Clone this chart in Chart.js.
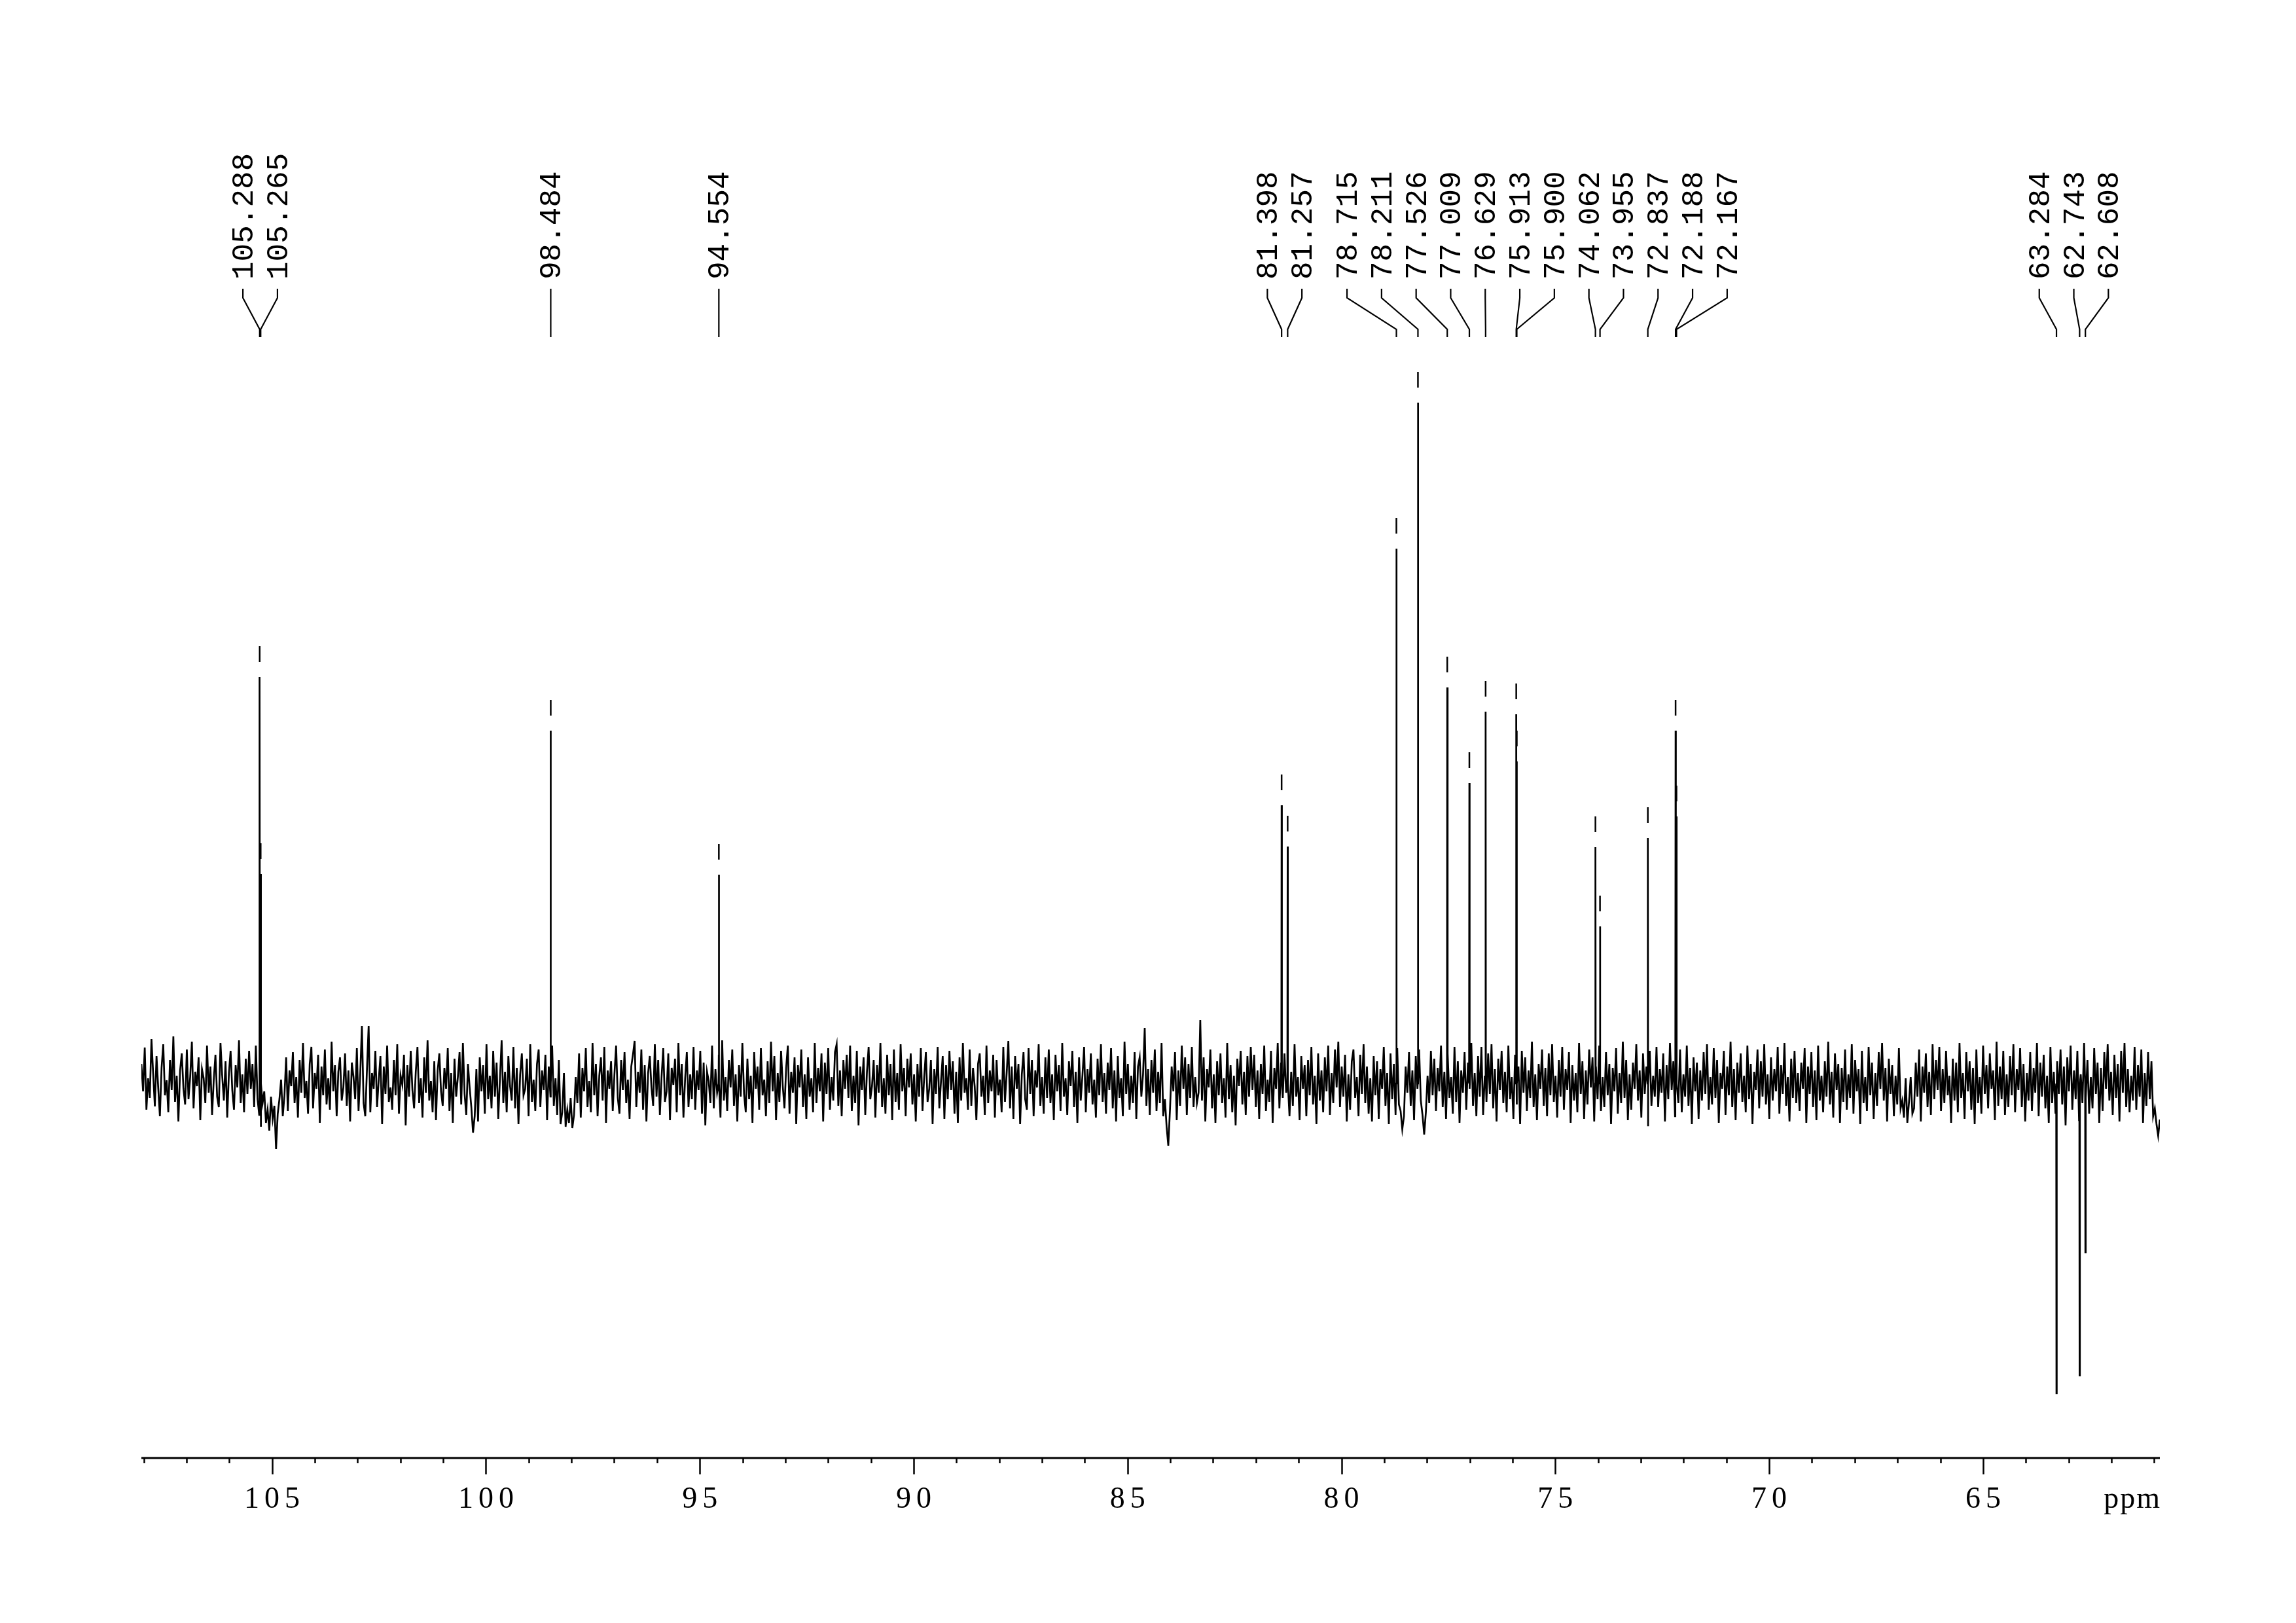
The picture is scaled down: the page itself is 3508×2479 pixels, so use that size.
<!DOCTYPE html>
<html>
<head>
<meta charset="utf-8">
<script src="https://cdn.jsdelivr.net/npm/chart.js@4.4.1/dist/chart.umd.min.js"></script>
<style>
  html, body { margin: 0; padding: 0; background: #fff; }
  #spec { display: block; }
</style>
</head>
<body>
<canvas id="spec" width="3508" height="2479"></canvas>
<script>
// spectral window (ppm), left edge to right edge
const ppmStart = 108.054;
const ppmEnd = 60.867;

// picked peaks and their heights (arbitrary intensity, baseline = 0)
const peakShifts = [105.288, 105.265, 98.484, 94.554, 81.398, 81.257, 78.715, 78.211, 77.526, 77.009,
  76.629, 75.913, 75.900, 74.062, 73.955, 72.837, 72.188, 72.167, 63.284, 62.743, 62.608];
const peakHeights = [621, 320, 539, 319, 425, 362, 817, 1040, 605, 459,
  568, 564, 492, 361, 240, 375, 539, 408, -473, -446, -258];

// axis tick labels
const majorTicks = [105, 100, 95, 90, 85, 80, 75, 70, 65];

// baseline noise, read left to right across the window
const noise = [
  30,-12,55,-40,8,-22,68,15,-35,42,-6,-50,24,60,-18,5,-44,36,-10,72,-28,12,-58,20,46,-8,-32,52,-24,10,
  64,-38,18,-4,40,-56,22,8,-30,58,-14,26,-48,6,44,-20,-36,62,12,-26,34,-52,16,50,-10,-40,28,-6,66,-30,
  14,-44,38,-16,50,-8,30,-36,58,-24,-48,-66,-30,-12,-60,-40,-72,-20,-54,-34,-100,-46,-24,6,-50,-18,40,-42,20,-4,
  48,-30,10,-52,36,-14,62,-22,4,-46,30,56,-38,16,-8,44,-60,26,-18,52,-32,8,-40,64,-12,28,-50,18,40,-26,
  -6,46,-34,20,-58,32,10,-24,54,-42,14,88,-30,-50,22,88,-44,16,-8,50,-36,6,42,-62,26,-16,58,-28,-6,-40,
  36,-18,60,-46,12,-2,44,-64,28,-20,50,-10,-38,18,56,-30,8,-52,40,-14,66,-26,4,-44,34,-56,20,46,-12,-34,
  24,-8,54,-42,16,-60,38,-20,10,48,-32,62,-16,-48,30,-6,-36,-75,-50,22,-58,40,-12,28,-46,60,-24,12,-38,50,
  -20,32,-54,8,66,-30,18,-44,42,-4,-26,56,-38,24,-62,14,46,-18,-8,38,-50,60,-28,6,-42,30,52,-36,20,-10,
  44,-56,26,-20,58,-34,8,-48,36,-62,-44,16,-66,-40,-60,-22,-68,-48,10,-30,46,-52,24,-12,54,-36,4,-44,62,-18,
  30,-50,12,40,-26,56,-60,20,-8,34,-42,14,58,-22,-46,36,-10,48,-30,6,-54,26,44,65,-36,18,-14,52,-40,28,
  -58,16,42,-6,-34,60,-20,36,-48,10,54,-28,-12,46,-56,24,-2,38,-44,62,-18,30,-52,8,48,-36,14,-24,56,-40,
  20,-10,50,-46,32,-64,18,4,-30,58,-38,22,-14,44,-52,66,-26,10,-42,36,-6,52,-34,14,-58,28,-20,62,-16,-44,
  38,-24,12,-60,48,-8,26,-40,54,-18,6,-50,34,-30,64,-12,42,-56,16,-28,50,-4,-38,24,58,-46,18,-14,40,-62,
  28,-6,52,-36,14,-54,40,-20,8,-44,62,-30,24,-12,46,-58,32,-16,54,-40,10,-26,48,60,-34,20,-50,36,-8,44,
  -22,58,-42,12,-30,50,-64,26,-10,40,-48,18,56,-24,-4,36,-52,28,-14,62,-36,8,-46,44,-18,30,-56,52,-28,16,
  -40,60,-12,24,-50,38,-6,46,-32,14,-58,30,-20,54,-42,10,48,-28,-8,36,-62,22,-16,56,-38,4,42,-54,28,-24,
  50,-10,34,-46,18,-60,40,-26,62,-14,8,-40,52,-34,24,-4,-56,30,46,-20,12,-48,58,-30,20,-12,44,-52,36,-18,
  6,-44,56,-28,16,65,-38,26,-54,42,-8,30,-62,14,48,-24,-40,54,-16,36,-50,20,-6,60,-34,10,-46,40,-22,52,
  -30,14,-56,44,-12,28,-42,62,-20,8,-48,34,-4,50,-36,18,-60,40,-26,12,56,-44,22,-14,46,-32,6,-52,38,-18,
  60,-28,16,-46,32,-10,54,-38,20,-58,42,-22,8,-50,64,-16,30,-40,12,-30,48,-54,26,40,-20,14,85,-34,22,-48,
  36,-14,52,-42,18,-30,62,-50,-24,-66,-95,-40,26,-12,48,-56,20,-34,58,-8,40,-48,30,-22,56,-36,10,-30,-14,97,
  -26,40,-58,22,-6,52,-38,14,-60,34,-18,46,-30,8,-52,62,-24,28,-44,12,-64,38,-4,50,-32,18,-48,42,-20,56,
  -10,44,-36,20,-54,30,-16,58,-42,6,-28,50,-60,24,-8,62,-38,32,-22,46,-14,54,-50,18,-34,60,-20,10,-56,42,
  -8,28,-50,36,-18,56,-32,12,-62,46,-26,20,-44,40,-12,58,-48,16,-30,52,-6,64,-36,26,-20,44,-58,14,-40,34,
  52,-22,10,-50,44,-16,60,-30,26,-46,8,-58,42,-18,34,-54,22,-8,56,-34,16,-62,46,-24,30,-48,54,-32,-42,-70,
  -50,26,-14,48,-34,20,-56,42,-8,52,-26,-48,-78,-44,12,-30,50,-18,38,-42,24,-12,58,-36,18,-54,46,-22,10,-46,
  56,-28,34,-60,20,-14,48,-40,32,-8,62,-34,16,-50,42,-20,56,-48,12,-28,46,-16,60,-38,22,-58,38,-10,50,-30,
  18,-44,58,-24,10,-54,44,-32,26,-62,50,-14,40,-42,20,-22,64,-36,14,-56,30,-8,52,-34,24,-50,46,-18,60,-28,
  12,-52,36,-20,56,-40,22,-10,48,-60,28,-26,16,-44,62,-16,34,-54,20,-32,52,-6,40,-58,26,-24,58,-42,10,-36,
  48,-18,30,-62,24,-12,54,-46,16,-30,64,-22,36,-56,14,-40,32,-8,60,-26,20,-52,46,-16,26,-64,50,-34,12,-20,
  56,-36,22,-14,46,-58,28,-24,62,-10,34,-50,18,-30,52,-44,14,-20,58,-34,24,-62,40,-12,32,-54,20,-26,48,-16,
  60,-40,10,-32,54,-22,36,-60,16,-8,50,-48,26,-18,64,-36,22,-56,32,-14,46,-28,12,-44,58,-24,30,-62,18,-10,
  52,-38,34,-20,60,-32,14,-54,40,-26,22,-12,56,-46,28,-16,62,-34,10,-58,38,-22,50,-30,16,-42,32,-8,54,-60,
  26,-16,48,-36,20,-56,58,-26,12,-44,34,-20,64,-32,18,-52,46,-10,30,-60,24,-28,52,-40,14,-22,60,-46,36,-12,
  22,-62,50,-30,10,-42,56,-18,32,-54,16,-34,48,-8,62,-26,24,-58,38,-16,28,-50,12,-32,54,-38,-26,-52,8,-60,
  -28,10,-46,-38,32,-20,52,-58,26,-14,46,-36,18,-48,60,-24,36,-10,56,-42,22,-30,50,-18,12,-60,38,-26,32,-44,
  62,-22,16,-54,48,-12,34,-40,24,-62,52,-30,10,-46,58,-16,28,-38,46,-8,20,-56,64,-34,26,-24,50,-48,14,-36,
  42,-18,60,-44,22,-10,54,-36,30,-58,16,-26,48,-42,24,-14,62,-50,32,-20,44,-38,12,-60,56,-30,18,-46,34,-16,
  52,-32,26,-64,40,-12,58,-40,20,-24,50,-56,14,-30,62,-22,36,-46,10,-38,54,-16,32,-60,24,-42,48,-8,60,-26,
  18,-48,44,-22,30,-58,50,-14,62,-36,22,-44,12,-26,56,-40,28,-20,52,-60,16,-34,48,-24,34,-50,-38,-62,-80,-55
];

// build the trace: noise samples plus narrow peak lines
const trace = noise.map((v, i) => ({ x: ppmStart - i * (ppmStart - ppmEnd) / (noise.length - 1), y: v }));
peakShifts.forEach((p, k) => {
  trace.push({ x: p + 0.006, y: 0 }, { x: p, y: peakHeights[k] }, { x: p - 0.006, y: 0 });
});
trace.sort((a, b) => b.x - a.x);

const LABEL_GAP = 52.8;

// spread peak labels so they don't collide, centred on their peaks
function layoutLabels(pxs) {
  let groups = pxs.map((px, i) => ({ idx: [i], center: px }));
  let merged = true;
  while (merged) {
    merged = false;
    for (let g = 0; g < groups.length - 1; g++) {
      const a = groups[g], b = groups[g + 1];
      const aLast = a.center + (a.idx.length - 1) / 2 * LABEL_GAP;
      const bFirst = b.center - (b.idx.length - 1) / 2 * LABEL_GAP;
      if (aLast + LABEL_GAP > bFirst) {
        const idx = a.idx.concat(b.idx);
        const center = idx.reduce((s, i) => s + pxs[i], 0) / idx.length;
        groups.splice(g, 2, { idx, center });
        merged = true;
        break;
      }
    }
  }
  const out = [];
  groups.forEach(g => {
    g.idx.forEach((i, k) => {
      out[i] = g.center + (k - (g.idx.length - 1) / 2) * LABEL_GAP;
    });
  });
  return out;
}

function spacedText(ctx, text, cx, y, sp) {
  const chars = [...text];
  const widths = chars.map(c => ctx.measureText(c).width);
  const total = widths.reduce((a, b) => a + b, 0) + sp * (chars.length - 1);
  let x = cx - total / 2;
  chars.forEach((c, i) => { ctx.fillText(c, x, y); x += widths[i] + sp; });
  return total;
}

const decorations = {
  id: 'decorations',
  afterDraw(chart) {
    const ctx = chart.ctx;
    const xs = chart.scales.x;
    const ys = chart.scales.y;
    const axisY = chart.chartArea.bottom;
    ctx.save();
    ctx.strokeStyle = '#000';
    ctx.fillStyle = '#000';
    ctx.lineCap = 'butt';

    // ppm axis
    ctx.lineWidth = 3;
    ctx.beginPath();
    ctx.moveTo(xs.getPixelForValue(ppmStart), axisY);
    ctx.lineTo(xs.getPixelForValue(ppmEnd), axisY);
    ctx.stroke();
    ctx.lineWidth = 2.5;
    for (let v = Math.ceil(ppmEnd); v <= Math.floor(ppmStart); v++) {
      const px = Math.round(xs.getPixelForValue(v)) + 0.5;
      const len = v % 5 === 0 ? 25 : 8;
      ctx.beginPath();
      ctx.moveTo(px, axisY);
      ctx.lineTo(px, axisY + len);
      ctx.stroke();
    }
    ctx.font = '46px "Liberation Serif"';
    ctx.textAlign = 'left';
    ctx.textBaseline = 'alphabetic';
    majorTicks.forEach(v => spacedText(ctx, String(v), xs.getPixelForValue(v), axisY + 76, 8));
    const ppmW = spacedText(ctx, 'ppm', -1000, -1000, 2);
    spacedText(ctx, 'ppm', xs.getPixelForValue(ppmEnd) - ppmW / 2, axisY + 76, 2);

    // peak-pick markers above positive peaks
    ctx.lineWidth = 2.5;
    peakShifts.forEach((p, k) => {
      if (peakHeights[k] <= 0) return;
      const px = xs.getPixelForValue(p);
      const top = ys.getPixelForValue(peakHeights[k]);
      ctx.beginPath();
      ctx.moveTo(px, top - 47);
      ctx.lineTo(px, top - 23);
      ctx.stroke();
    });

    // peak labels with leader lines
    const peakPx = peakShifts.map(p => xs.getPixelForValue(p));
    const labelPx = layoutLabels(peakPx);
    ctx.lineWidth = 2.2;
    peakShifts.forEach((p, k) => {
      const lx = labelPx[k], px = peakPx[k];
      ctx.beginPath();
      ctx.moveTo(lx, 441);
      ctx.lineTo(lx, 455);
      ctx.lineTo(px, 503);
      ctx.lineTo(px, 515);
      ctx.stroke();
      ctx.save();
      ctx.translate(lx, 427);
      ctx.rotate(-Math.PI / 2);
      ctx.font = '46px "Liberation Mono"';
      ctx.textAlign = 'left';
      ctx.textBaseline = 'alphabetic';
      ctx.fillText(p.toFixed(3), 0, 15);
      ctx.restore();
    });
    ctx.restore();
  }
};

new Chart(document.getElementById('spec'), {
  type: 'line',
  data: {
    datasets: [{
      data: trace,
      borderColor: '#000',
      borderWidth: 2.7,
      pointRadius: 0,
      tension: 0,
      fill: false
    }]
  },
  options: {
    responsive: false,
    animation: false,
    devicePixelRatio: 1,
    layout: { padding: { left: 216, right: 208, top: 155, bottom: 252 } },
    plugins: { legend: { display: false }, tooltip: { enabled: false } },
    scales: {
      x: { type: 'linear', reverse: true, min: ppmEnd, max: ppmStart, display: false },
      y: { type: 'linear', min: -572, max: 1500, display: false }
    }
  },
  plugins: [decorations]
});
</script>
</body>
</html>
